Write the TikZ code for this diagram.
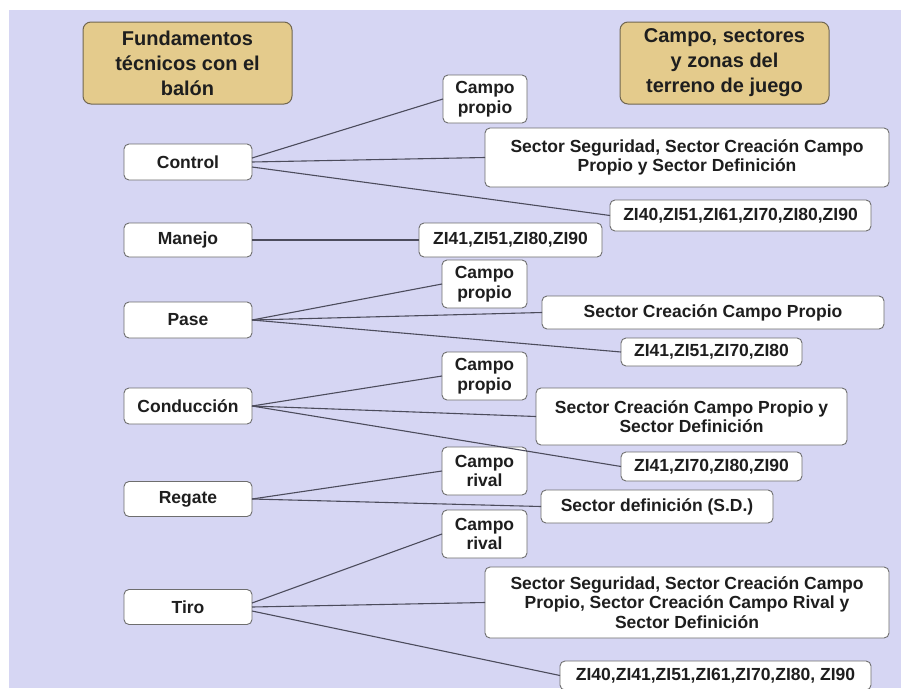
\documentclass[tikz,border=0pt]{standalone}
\usepackage{fontspec}
\setmainfont{Liberation Sans}
\begin{document}
\definecolor{pagebg}{HTML}{D6D6F3}
\definecolor{boxline}{HTML}{6E6E6E}
\definecolor{linkline}{HTML}{4C4C5C}
\definecolor{tan}{HTML}{E4CB8C}
\definecolor{tanline}{HTML}{706650}
\definecolor{ink}{HTML}{1E1E1E}
\begin{tikzpicture}[x=1pt,y=-1pt,
  every node/.style={inner sep=0pt, outer sep=0pt, text=ink,
    font=\fontsize{17.5}{19.5}\selectfont\bfseries, align=center},
  titlebox/.style={draw=tanline, line width=1pt, fill=tan, rounded corners=8pt,
    font=\fontsize{20}{25}\selectfont\bfseries},
  leftbox/.style={draw=boxline, line width=0.9pt, fill=white, rounded corners=5pt,
    minimum width=128pt},
  rightbox/.style={draw=boxline, line width=0.9pt, fill=white, rounded corners=5pt},
  link/.style={draw=linkline, line width=1.1pt}]
\useasboundingbox (0,0) rectangle (901,688);
\fill[white] (0,0) rectangle (901,688);
\fill[pagebg] (9,10) rectangle (901,688);

% column headings
\node[titlebox, minimum width=209pt, minimum height=82pt] (h1) at (187.5,63)
  {Fundamentos\\técnicos con el\\balón};
\node[titlebox, minimum width=209pt, minimum height=82pt] (h2) at (724.5,63)
  {Campo, sectores\\y zonas del\\terreno de juego};

% technical skills
\node[leftbox, minimum height=36pt] (ctl) at (188,162) {Control};
\node[leftbox, minimum height=34pt] (man) at (188,240) {Manejo};
\node[leftbox, minimum height=36pt] (pas) at (188,320) {Pase};
\node[leftbox, minimum height=36pt] (con) at (188,406) {Conducción};
\node[leftbox, minimum height=35pt] (reg) at (188,499) {Regate};
\node[leftbox, minimum height=35pt] (tir) at (188,607) {Tiro};

% field areas: Control
\node[rightbox, minimum width=84pt, minimum height=48pt] (cp1) at (485,99) {Campo\\propio};
\node[rightbox, minimum width=404pt, minimum height=59pt] (ss1) at (687,157.5)
  {Sector Seguridad, Sector Creación Campo\\Propio y Sector Definición};
\node[rightbox, minimum width=261pt, minimum height=31pt] (z1) at (740.5,215.5)
  {ZI40,ZI51,ZI61,ZI70,ZI80,ZI90};
% Manejo
\node[rightbox, minimum width=183pt, minimum height=34pt] (z2) at (510.5,240)
  {ZI41,ZI51,ZI80,ZI90};
% Pase
\node[rightbox, minimum width=85pt, minimum height=48pt] (cp2) at (484.5,284) {Campo\\propio};
\node[rightbox, minimum width=342pt, minimum height=33pt] (sc2) at (713,312.5)
  {Sector Creación Campo Propio};
\node[rightbox, minimum width=181pt, minimum height=28pt] (z3) at (711.5,352)
  {ZI41,ZI51,ZI70,ZI80};
% Conducción
\node[rightbox, minimum width=85pt, minimum height=48pt] (cp3) at (484.5,376) {Campo\\propio};
\node[rightbox, minimum width=311pt, minimum height=57pt] (sc3) at (691.5,416.5)
  {Sector Creación Campo Propio y\\Sector Definición};
\node[rightbox, minimum width=181pt, minimum height=29pt] (z4) at (711.5,466.5)
  {ZI41,ZI70,ZI80,ZI90};
% Regate
\node[rightbox, minimum width=85pt, minimum height=48pt] (cr1) at (484.5,471) {Campo\\rival};
\node[rightbox, minimum width=232pt, minimum height=33pt] (sd) at (657,506.5)
  {Sector definición (S.D.)};
% Tiro
\node[rightbox, minimum width=85pt, minimum height=48pt] (cr2) at (484.5,534) {Campo\\rival};
\node[rightbox, minimum width=404pt, minimum height=71pt] (ss2) at (687,602.5)
  {Sector Seguridad, Sector Creación Campo\\Propio, Sector Creación Campo Rival y\\Sector Definición};
\node[rightbox, minimum width=311pt, minimum height=29pt] (z5) at (715.5,675.5)
  {ZI40,ZI41,ZI51,ZI61,ZI70,ZI80, ZI90};

% connectors (yshift is in canvas units: positive moves up)
\draw[link] ([yshift=4pt]ctl.east) -- (cp1.west);
\draw[link] (ctl.east) -- (ss1.west);
\draw[link] ([yshift=-5pt]ctl.east) -- (z1.west);
\draw[link] (man.east) -- (z2.west);
\draw[link] (pas.east) -- (cp2.west);
\draw[link] (pas.east) -- (sc2.west);
\draw[link] (pas.east) -- (z3.west);
\draw[link] (con.east) -- (cp3.west);
\draw[link] (con.east) -- (sc3.west);
\draw[link] (con.east) -- (z4.west);
\draw[link] (reg.east) -- (cr1.west);
\draw[link] (reg.east) -- (sd.west);
\draw[link] ([yshift=4pt]tir.east) -- (cr2.west);
\draw[link] (tir.east) -- (ss2.west);
\draw[link] ([yshift=-4pt]tir.east) -- (z5.west);
\end{tikzpicture}
\end{document}
